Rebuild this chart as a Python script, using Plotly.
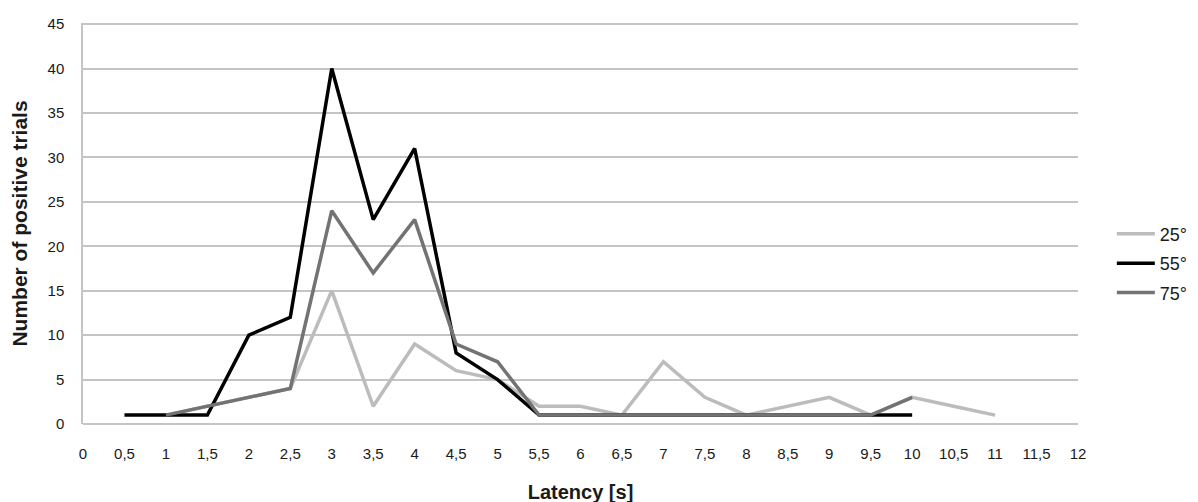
import plotly.graph_objects as go

# Data
x_25 = [1, 1.5, 2, 2.5, 3, 3.5, 4, 4.5, 5, 5.5, 6, 6.5, 7, 7.5, 8, 8.5, 9, 9.5, 10, 10.5, 11]
y_25 = [1, 2, 3, 4, 15, 2, 9, 6, 5, 2, 2, 1, 7, 3, 1, 2, 3, 1, 3, 2, 1]

x_55 = [0.5, 1, 1.5, 2, 2.5, 3, 3.5, 4, 4.5, 5, 5.5, 6, 6.5, 7, 7.5, 8, 8.5, 9, 9.5, 10]
y_55 = [1, 1, 1, 10, 12, 40, 23, 31, 8, 5, 1, 1, 1, 1, 1, 1, 1, 1, 1, 1]

x_75 = [1, 1.5, 2, 2.5, 3, 3.5, 4, 4.5, 5, 5.5, 6, 6.5, 7, 7.5, 8, 8.5, 9, 9.5, 10]
y_75 = [1, 2, 3, 4, 24, 17, 23, 9, 7, 1, 1, 1, 1, 1, 1, 1, 1, 1, 3]

x_ticks = [i * 0.5 for i in range(25)]
x_ticklabels = ["0", "0,5", "1", "1,5", "2", "2,5", "3", "3,5", "4", "4,5", "5", "5,5", "6",
                "6,5", "7", "7,5", "8", "8,5", "9", "9,5", "10", "10,5", "11", "11,5", "12"]
y_ticks = [0, 5, 10, 15, 20, 25, 30, 35, 40, 45]

series = [
    ("25°", x_25, y_25, "#bcbcbc"),
    ("55°", x_55, y_55, "#000000"),
    ("75°", x_75, y_75, "#737373"),
]

fig = go.Figure()
for name, xs, ys, col in series:
    fig.add_trace(go.Scatter(x=xs, y=ys, mode="lines", name=name, legendgroup=name,
                             line=dict(color=col, width=3.5)))

FONT = "Liberation Sans, Arial, sans-serif"
tick_font = dict(family=FONT, size=15, color="#1a1a1a")

fig.update_layout(
    width=1198, height=502,
    margin=dict(l=75, r=128, t=15, b=86, autoexpand=False),
    plot_bgcolor="white", paper_bgcolor="white",
    showlegend=True,
    legend=dict(x=1.034, y=0.40, xanchor="left", yanchor="middle",
                font=dict(family=FONT, size=18, color="#1a1a1a"),
                tracegroupgap=3, itemwidth=38, bgcolor="rgba(0,0,0,0)"),
    xaxis=dict(range=[0, 12], tickvals=x_ticks, ticktext=x_ticklabels,
               automargin=False,
               showgrid=False, zeroline=False, showline=False,
               ticks="outside", ticklen=16, tickcolor="rgba(0,0,0,0)",
               tickfont=tick_font,
               title=dict(text="<b>Latency [s]</b>", standoff=23,
                          font=dict(family=FONT, size=20, color="#1a1a1a"))),
    yaxis=dict(range=[0, 45.12], tickvals=y_ticks,
               automargin=False,
               showgrid=True, gridcolor="#c4c4c4", gridwidth=1.5,
               zeroline=True, zerolinecolor="#c4c4c4", zerolinewidth=1.5,
               showline=True, linecolor="#c4c4c4", linewidth=1.5,
               ticks="outside", ticklen=14, tickcolor="rgba(0,0,0,0)",
               tickfont=tick_font,
               title=dict(text="<b>Number of positive trials</b>", standoff=14,
                          font=dict(family=FONT, size=21, color="#1a1a1a"))),
)

fig.write_html("out.html")
